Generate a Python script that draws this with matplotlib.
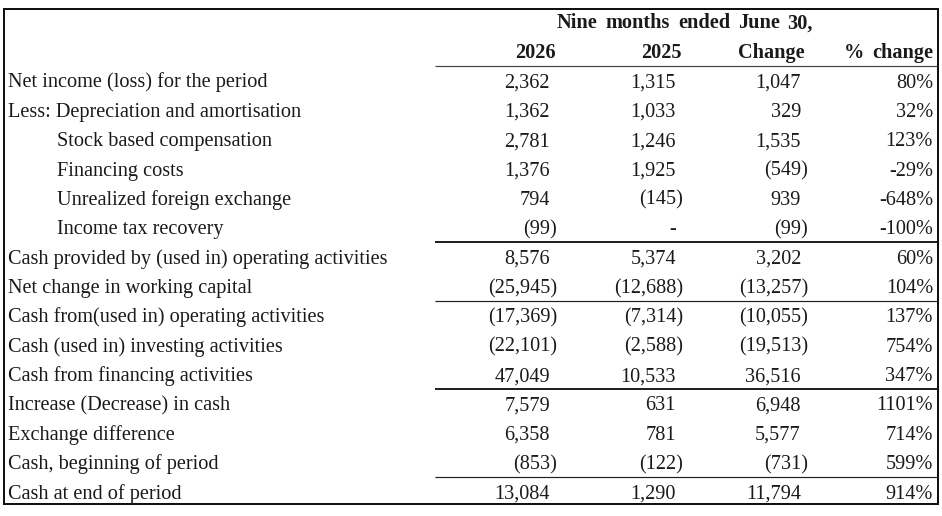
import matplotlib
matplotlib.use("Agg")
import matplotlib.pyplot as plt
from matplotlib.font_manager import FontProperties, findfont, get_font

# ---------------- data ----------------
row_labels = [
    "Net income (loss) for the period",
    "Less: Depreciation and amortisation",
    "Stock based compensation",
    "Financing costs",
    "Unrealized foreign exchange",
    "Income tax recovery",
    "Cash provided by (used in) operating activities",
    "Net change in working capital",
    "Cash from(used in) operating activities",
    "Cash (used in) investing activities",
    "Cash from financing activities",
    "Increase (Decrease) in cash",
    "Exchange difference",
    "Cash, beginning of period",
    "Cash at end of period",
]
indented = [False, False, True, True, True, True, False, False, False,
            False, False, False, False, False, False]
col_headers = ["2026", "2025", "Change", "% change"]
super_header = "Nine months ended June 30,"

v2026 = [2362, 1362, 2781, 1376, 794, -99, 8576, -25945, -17369, -22101,
         47049, 7579, 6358, -853, 13084]
v2025 = [1315, 1033, 1246, 1925, -145, 0, 5374, -12688, -7314, -2588,
         10533, 631, 781, -122, 1290]
vchange = [1047, 329, 1535, -549, 939, -99, 3202, -13257, -10055, -19513,
           36516, 6948, 5577, -731, 11794]
vpct = [80, 32, 123, -29, -648, -100, 60, 104, 137, 754, 347, 1101, 714,
        599, 914]

# rule lines drawn above these row indices (index, thickness in px)
rules_above = [(6, 2.0), (8, 1.2), (11, 2.0), (14, 1.2)]

# ---------------- layout ----------------
W, H, DPI = 942, 516, 100
FS = 14.6
TXT = "#1a1a1a"
serif = "Liberation Serif"

fig = plt.figure(figsize=(W / DPI, H / DPI), dpi=DPI)
ax = fig.add_axes([0, 0, 1, 1])
ax.set_xlim(0, W)
ax.set_ylim(H, 0)
ax.axis("off")

px2pt = 72.0 / DPI

row0_base = 87.5
row_step = 29.36
label_x = 7.5
indent_x = 57
num_right = [550, 676, 801]   # right edge of positive numbers
paren_right = [557, 683, 808]  # right edge including ")"
pct_right = 933
head_right = [556, 682, 804, 933]
rule_x0, rule_x1 = 435, 937

body = FontProperties(family=serif, size=FS)
bold = FontProperties(family=serif, size=FS, weight="bold")


def text_width(s, prop):
    font = get_font(findfont(prop))
    font.set_size(prop.get_size_in_points(), DPI)
    return sum(font.load_char(ord(ch)).linearHoriAdvance / 65536.0
               for ch in s)


def word_spaced(x, y, s, prop, word_extra, ha="right"):
    words = s.split(" ")
    sp = text_width(" ", prop) + word_extra
    widths = [text_width(w, prop) for w in words]
    total = sum(widths) + sp * (len(words) - 1)
    start = x - total if ha == "right" else x
    cx = start
    for w, wd in zip(words, widths):
        ax.text(cx, y, w, fontproperties=prop, color=TXT,
                ha="left", va="baseline")
        cx += wd + sp


def fmt(v):
    if v == 0:
        return "-", False
    if v < 0:
        return "({:,})".format(-v), True
    return "{:,}".format(v), False


# outer border
ax.add_patch(plt.Rectangle((4, 9), 934, 495, fill=False, ec="#111111",
                           lw=2.0 * px2pt))

# header
word_spaced(557, 28.5, super_header, bold, 3.0, ha="left")
for hx, h in zip(head_right, col_headers):
    word_spaced(hx, 58, h, bold, 3.0, ha="right")
ax.plot([rule_x0, rule_x1], [66, 66], color="#444444", lw=1.2 * px2pt,
        solid_capstyle="butt")

# body rows
for i, lab in enumerate(row_labels):
    yb = row0_base + i * row_step
    ax.text(indent_x if indented[i] else label_x, yb, lab,
            fontproperties=body, color=TXT, ha="left", va="baseline")
    for c, series in enumerate([v2026, v2025, vchange]):
        s, neg = fmt(series[i])
        ax.text(paren_right[c] if neg else num_right[c], yb, s,
                fontproperties=body, color=TXT, ha="right", va="baseline")
    ax.text(pct_right, yb, "{}%".format(vpct[i]), fontproperties=body,
            color=TXT, ha="right", va="baseline")

for idx, th in rules_above:
    yl = row0_base + idx * row_step - 0.5 * row_step - 7
    ax.plot([rule_x0, rule_x1], [yl, yl], color="#222222", lw=th * px2pt,
            solid_capstyle="butt")

fig.savefig("out.png", dpi=DPI, facecolor="white")
